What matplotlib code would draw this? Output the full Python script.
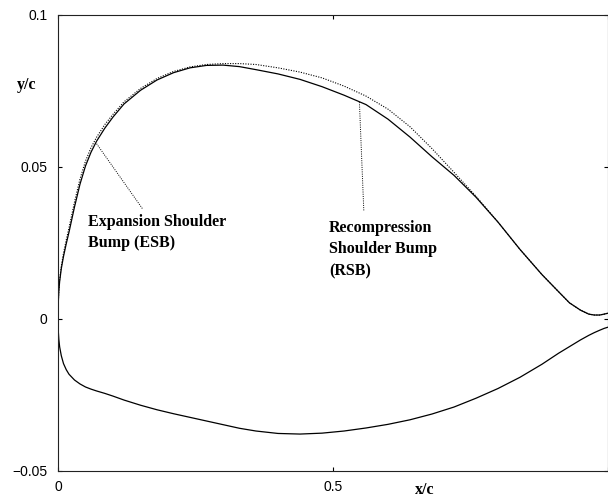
import matplotlib
matplotlib.use("Agg")
import matplotlib.pyplot as plt

# Chordwise stations shared by all surfaces
x_c = [0, 0.0005, 0.0015, 0.003, 0.006, 0.01, 0.015, 0.02, 0.03, 0.04, 0.05,
       0.06, 0.07, 0.085, 0.1, 0.12, 0.15, 0.18, 0.21, 0.24, 0.27, 0.3, 0.33,
       0.36, 0.4, 0.44, 0.48, 0.52, 0.56, 0.6, 0.64, 0.68, 0.72, 0.76, 0.8,
       0.84, 0.88, 0.91, 0.93, 0.95, 0.965, 0.975, 0.985, 0.993, 1.0]

# Upper surface with recompression shoulder bump (solid)
y_rsb = [0, 0.0052, 0.0090, 0.0123, 0.0165, 0.0205, 0.0247, 0.0285, 0.0368,
         0.0443, 0.0503, 0.0548, 0.0584, 0.0627, 0.0664, 0.0707, 0.0752,
         0.0786, 0.0810, 0.0826, 0.0834, 0.0835, 0.0830, 0.0820, 0.0806,
         0.0788, 0.0764, 0.0736, 0.0705, 0.0657, 0.0598, 0.0533, 0.0472,
         0.0400, 0.0318, 0.0228, 0.0145, 0.0089, 0.0052, 0.0028, 0.0015,
         0.0012, 0.0012, 0.0015, 0.0018]

# Upper surface with expansion shoulder bump (dotted)
y_esb = [0, 0.0054, 0.0094, 0.0129, 0.0173, 0.0215, 0.0259, 0.0299, 0.0384,
         0.0460, 0.0519, 0.0563, 0.0597, 0.0639, 0.0673, 0.0714, 0.0758,
         0.0791, 0.0814, 0.0829, 0.0837, 0.0840, 0.0840, 0.0837, 0.0826,
         0.0812, 0.0793, 0.0766, 0.0733, 0.0690, 0.0632, 0.0560, 0.0482,
         0.0403, 0.0318, 0.0228, 0.0145, 0.0089, 0.0052, 0.0028, 0.0015,
         0.0012, 0.0012, 0.0015, 0.0018]

# Common lower surface
y_lower = [0, -0.0040, -0.0068, -0.0093, -0.0122, -0.0148, -0.0168, -0.0183,
           -0.0202, -0.0215, -0.0225, -0.0232, -0.0238, -0.0246, -0.0255,
           -0.0268, -0.0285, -0.0300, -0.0313, -0.0325, -0.0337, -0.0349,
           -0.0361, -0.0370, -0.0378, -0.0380, -0.0377, -0.0370, -0.0360,
           -0.0348, -0.0333, -0.0314, -0.0291, -0.0262, -0.0230, -0.0193,
           -0.0150, -0.0114, -0.0092, -0.0070, -0.0055, -0.0046, -0.0038,
           -0.0032, -0.0028]

x_ticks = [0, 0.5, 1]
x_ticklabels = ["0", "0.5", ""]
y_ticks = [-0.05, 0, 0.05, 0.1]
y_ticklabels = ["\u22120.05", "0", "0.05", "0.1"]

W, H = 608, 498
fig = plt.figure(figsize=(W / 100, H / 100), dpi=100)
ax = fig.add_axes([58 / W, 27.5 / H, 1 - 58 / W, 455.5 / H])

ax.plot(x_c, y_rsb, color="black", lw=0.9)
ax.plot(x_c, y_esb, color="black", lw=0.8, linestyle=(0, (1, 1.3)))
ax.plot(x_c, y_lower, color="black", lw=0.9)

ax.set_xlim(0, 1)
ax.set_ylim(-0.05, 0.1)
ax.set_xticks(x_ticks)
ax.set_xticklabels(x_ticklabels)
ax.set_yticks(y_ticks)
ax.set_yticklabels(y_ticklabels)

for lab in ax.get_xticklabels() + ax.get_yticklabels():
    lab.set_fontfamily("Liberation Sans")
    lab.set_fontsize(10)

ax.tick_params(direction="in", length=3, width=0.8, top=True, right=True,
               colors="black")
ax.tick_params(axis="y", pad=7.5)
ax.tick_params(axis="x", pad=7)
for s in ax.spines.values():
    s.set_linewidth(0.8)
    s.set_color("#222222")

label_font = dict(family="Liberation Serif", weight="bold", size=11.5)
fig.text(27 / W, 1 - 85 / H, "y/c", ha="center", va="center", **label_font)
fig.text(425 / W, 1 - 490 / H, "x/c", ha="center", va="center", **label_font)

# Annotations with leader lines
ax.text(0.0545, 0.0305, "Expansion Shoulder", ha="left", va="baseline", **label_font)
ax.text(0.0545, 0.0237, "Bump (ESB)", ha="left", va="baseline", **label_font)
ax.text(0.4927, 0.0287, "Recompression", ha="left", va="baseline", **label_font)
ax.text(0.4927, 0.0215, "Shoulder Bump", ha="left", va="baseline", **label_font)
ax.text(0.4927, 0.0144, "(RSB)", ha="left", va="baseline", **label_font)

ax.plot([0.0702, 0.1536], [0.0576, 0.0362], color="black", lw=0.7,
        linestyle=(0, (1, 1.3)))
ax.plot([0.548, 0.556], [0.0713, 0.0356], color="black", lw=0.7,
        linestyle=(0, (1, 1.3)))

fig.savefig("out.png", dpi=100)
